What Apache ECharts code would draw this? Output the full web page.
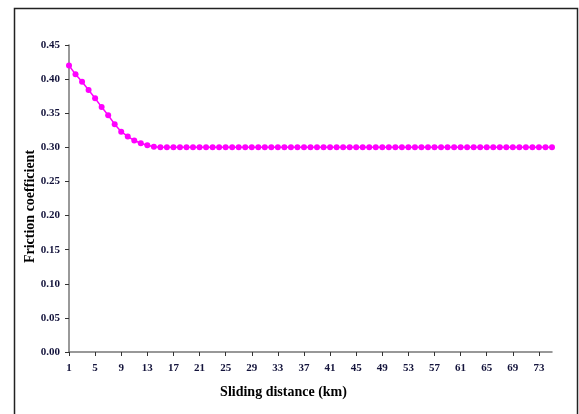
<!DOCTYPE html>
<html>
<head>
<meta charset="utf-8">
<script src="https://cdn.jsdelivr.net/npm/echarts@6/dist/echarts.min.js"></script>
<style>
html,body{margin:0;padding:0;background:#fff;}
#c{width:579px;height:414px;}
</style>
</head>
<body>
<div id="c"></div>
<script>
// Sliding distance (km), 1..75
const distances = [];
for (let i = 1; i <= 75; i++) distances.push(String(i));
// Friction coefficient
const frictionStart = [0.420, 0.407, 0.396, 0.384, 0.372, 0.359, 0.347, 0.334, 0.323, 0.316, 0.310, 0.306, 0.303, 0.301, 0.300];
const frictionSteady = [
  0.30,0.30,0.30,0.30,0.30,0.30,0.30,0.30,0.30,0.30,
  0.30,0.30,0.30,0.30,0.30,0.30,0.30,0.30,0.30,0.30,
  0.30,0.30,0.30,0.30,0.30,0.30,0.30,0.30,0.30,0.30,
  0.30,0.30,0.30,0.30,0.30,0.30,0.30,0.30,0.30,0.30,
  0.30,0.30,0.30,0.30,0.30,0.30,0.30,0.30,0.30,0.30,
  0.30,0.30,0.30,0.30,0.30,0.30,0.30,0.30,0.30,0.30
];
const friction = frictionStart.concat(frictionSteady);
const xTitle = 'Sliding distance (km)';
const yTitle = 'Friction coefficient';

const serif = '"Liberation Serif", "DejaVu Serif", serif';
const chart = echarts.init(document.getElementById('c'));
chart.setOption({
  animation: false,
  backgroundColor: '#fff',
  grid: {left: 69, right: 27, top: 45, bottom: 62},
  graphic: [{
    type: 'polyline',
    shape: {points: [[14.5, 414], [14.5, 8.5], [577.5, 8.5], [577.5, 414]]},
    style: {stroke: '#222', lineWidth: 1.5, fill: null}
  }],
  xAxis: {
    type: 'category',
    data: distances,
    boundaryGap: false,
    name: xTitle,
    nameLocation: 'middle',
    nameGap: 33,
    nameTextStyle: {fontFamily: serif, fontWeight: 'bold', fontSize: 14, color: '#000', padding: [0, 54, 0, 0]},
    axisLine: {lineStyle: {color: '#777', width: 1.5}},
    axisTick: {interval: 3, length: 4, lineStyle: {color: '#333'}},
    axisLabel: {interval: 3, margin: 11, fontFamily: serif, fontWeight: 'bold', fontSize: 11, color: '#14143c'},
    splitLine: {show: false}
  },
  yAxis: {
    type: 'value',
    min: 0, max: 0.45, interval: 0.05,
    name: yTitle,
    nameLocation: 'middle',
    nameGap: 32,
    nameMoveOverlap: false,
    nameRotate: 90,
    nameTextStyle: {fontFamily: serif, fontWeight: 'bold', fontSize: 14, color: '#000', padding: [0, 16, 0, 0]},
    axisLine: {show: true, lineStyle: {color: '#777', width: 1.5}},
    axisTick: {show: true, length: 4, lineStyle: {color: '#333'}},
    axisLabel: {margin: 9, fontFamily: serif, fontWeight: 'bold', fontSize: 11, color: '#14143c',
      formatter: v => v.toFixed(2)},
    splitLine: {show: false}
  },
  series: [{
    type: 'line',
    data: friction,
    showAllSymbol: true,
    symbol: 'circle',
    symbolSize: 6,
    lineStyle: {color: '#ff00ff', width: 1.5},
    itemStyle: {color: '#ff00ff'}
  }]
});
</script>
</body>
</html>
